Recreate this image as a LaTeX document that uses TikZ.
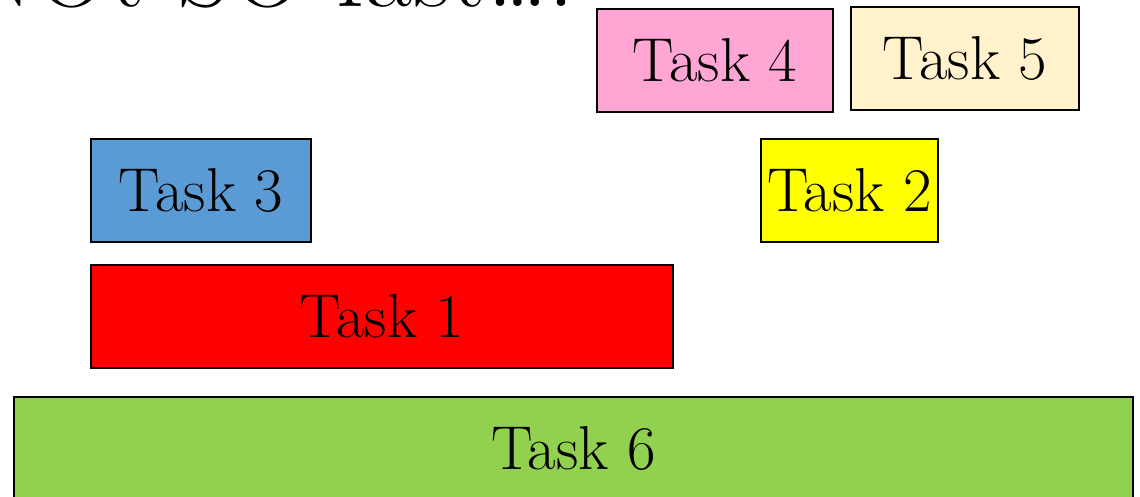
\documentclass[tikz,border=0pt]{standalone}
\definecolor{taskpink}{RGB}{255,166,212}
\definecolor{taskcream}{RGB}{255,242,204}
\definecolor{taskblue}{RGB}{91,155,213}
\definecolor{taskyellow}{RGB}{255,255,0}
\definecolor{taskred}{RGB}{255,0,0}
\definecolor{taskgreen}{RGB}{146,208,80}
\tikzset{
  taskbox/.style={draw=black, line width=1.5pt, inner sep=0pt, outer sep=0pt,
    font=\fontsize{62}{66}\selectfont, text=black},
}
\begin{document}
\begin{tikzpicture}[x=1pt, y=-1pt]
  \clip (0,0) rectangle (1140,497);
  \fill[white] (0,0) rectangle (1140,497);
  % heading, mostly above the visible area
  \node[anchor=base west, inner sep=0pt, font=\fontsize{104}{108}\selectfont] (title) at (-38,7) {NOt SO fast\ldots.};
  % task bars
  \node[taskbox, fill=taskpink, minimum width=236pt, minimum height=103pt] (t4) at (715,60.5) {Task 4};
  \node[taskbox, fill=taskcream, minimum width=228pt, minimum height=103pt] (t5) at (965,58.5) {Task 5};
  \node[taskbox, fill=taskblue, minimum width=220pt, minimum height=103pt] (t3) at (201,190.5) {Task 3};
  \node[taskbox, fill=taskyellow, minimum width=177pt, minimum height=103pt] (t2) at (849.5,190.5) {Task 2};
  \node[taskbox, fill=taskred, minimum width=582pt, minimum height=103pt] (t1) at (382,316.5) {Task 1};
  \node[taskbox, fill=taskgreen, minimum width=1119pt, minimum height=103pt] (t6) at (573.5,448.5) {Task 6};
\end{tikzpicture}
\end{document}
